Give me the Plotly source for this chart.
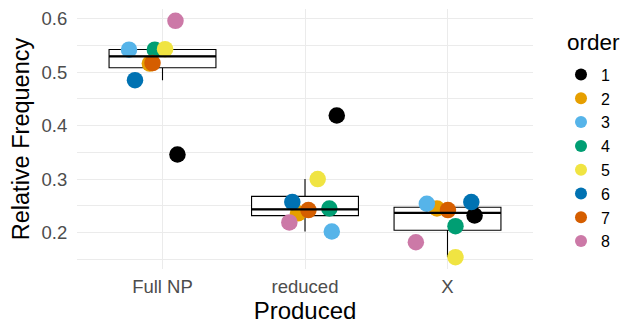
import numpy as np
import plotly.graph_objects as go

categories = ["Full NP", "reduced", "X"]
orders = ["1", "2", "3", "4", "5", "6", "7", "8"]
colors = ["#000000", "#E69F00", "#56B4E9", "#009E73",
          "#F0E442", "#0072B2", "#D55E00", "#CC79A7"]

# relative frequency per category, indexed by order 1..8
full_np = [0.346, 0.516, 0.542, 0.542, 0.543, 0.485, 0.517, 0.596]
reduced = [0.419, 0.236, 0.202, 0.245, 0.300, 0.257, 0.242, 0.219]
x_vals = [0.232, 0.245, 0.254, 0.212, 0.154, 0.257, 0.242, 0.182]
values = [full_np, reduced, x_vals]

# horizontal jitter (category units) as seen in the picture
jit_full = [0.105, -0.089, -0.235, -0.054, 0.018, -0.193, -0.070, 0.091]
jit_red = [0.223, -0.049, 0.188, 0.171, 0.089, -0.089, 0.024, -0.110]
jit_x = [0.190, -0.074, -0.145, 0.056, 0.056, 0.167, 0.003, -0.222]
jitters = [jit_full, jit_red, jit_x]

FONT = "Liberation Sans, Arial, sans-serif"


def box_stats(v):
    a = np.sort(np.array(v))
    q1, med, q3 = np.quantile(a, [0.25, 0.5, 0.75])
    iqr = q3 - q1
    lo = a[a >= q1 - 1.5 * iqr].min()
    hi = a[a <= q3 + 1.5 * iqr].max()
    return q1, med, q3, lo, hi


stats = [box_stats(v) for v in values]
pos = list(range(len(categories)))

fig = go.Figure()
fig.add_trace(go.Box(
    x=pos,
    q1=[s[0] for s in stats], median=[s[1] for s in stats],
    q3=[s[2] for s in stats], lowerfence=[s[3] for s in stats],
    upperfence=[s[4] for s in stats],
    width=0.75, whiskerwidth=0, fillcolor="white",
    line=dict(color="black", width=1.1), boxpoints=False,
    showlegend=False, hoverinfo="skip"))

# thicker median lines like ggplot
for p, s in zip(pos, stats):
    fig.add_shape(type="line", x0=p - 0.375, x1=p + 0.375, y0=s[1], y1=s[1],
                  line=dict(color="black", width=2.2), layer="above")

for i, o in enumerate(orders):
    xs = [pos[c] + jitters[c][i] for c in range(len(categories))]
    ys = [values[c][i] for c in range(len(categories))]
    fig.add_trace(go.Scatter(
        x=xs, y=ys, mode="markers", name=o,
        marker=dict(color=colors[i], size=16.5, line=dict(width=0))))

# the page body adds an 8px offset, so the figure is 8px smaller each way
W, H = 620, 316
ML, MR, MT, MB = 69, 95, 1, 55
PW, PH = W - ML - MR, H - MT - MB

fig.add_annotation(text="order", xref="paper", yref="paper",
                   x=(614 - ML) / PW, y=1 - (34 - MT) / PH,
                   xanchor="right", yanchor="middle", showarrow=False,
                   font=dict(size=22.5, color="black", family=FONT))

fig.update_layout(
    width=W, height=H,
    margin=dict(l=ML, r=MR, t=MT, b=MB, autoexpand=False),
    plot_bgcolor="white", paper_bgcolor="white",
    font=dict(family=FONT, color="#000000"),
    legend=dict(font=dict(size=16, color="black"),
                x=(553 - ML) / PW, xanchor="left",
                y=1 - (49.6 - MT) / PH, yanchor="top",
                itemsizing="constant", tracegroupgap=0),
    xaxis=dict(range=[-0.6, 2.6], tickvals=pos, ticktext=categories,
               showgrid=True, gridcolor="#EBEBEB", gridwidth=1.1,
               zeroline=False, ticks="outside", ticklen=1, tickcolor="rgba(0,0,0,0)",
               showline=False,
               tickfont=dict(size=18.5, color="#4D4D4D"),
               title=dict(text="Produced", font=dict(size=24, color="black"), standoff=9)),
    yaxis=dict(range=[0.1319, 0.6181], tickvals=[0.2, 0.3, 0.4, 0.5, 0.6],
               ticktext=["0.2", "0.3", "0.4", "0.5", "0.6"],
               showgrid=True, gridcolor="#EBEBEB", gridwidth=1.1,
               zeroline=False, ticks="outside", ticklen=5, tickcolor="rgba(0,0,0,0)",
               showline=False,
               tickfont=dict(size=18.5, color="#4D4D4D"),
               minor=dict(tickvals=[0.15, 0.25, 0.35, 0.45, 0.55],
                          showgrid=True, gridcolor="#EBEBEB", gridwidth=0.8),
               title=dict(text="Relative Frequency", font=dict(size=23.5, color="black"), standoff=6)),
)

fig.write_html("out.html")
